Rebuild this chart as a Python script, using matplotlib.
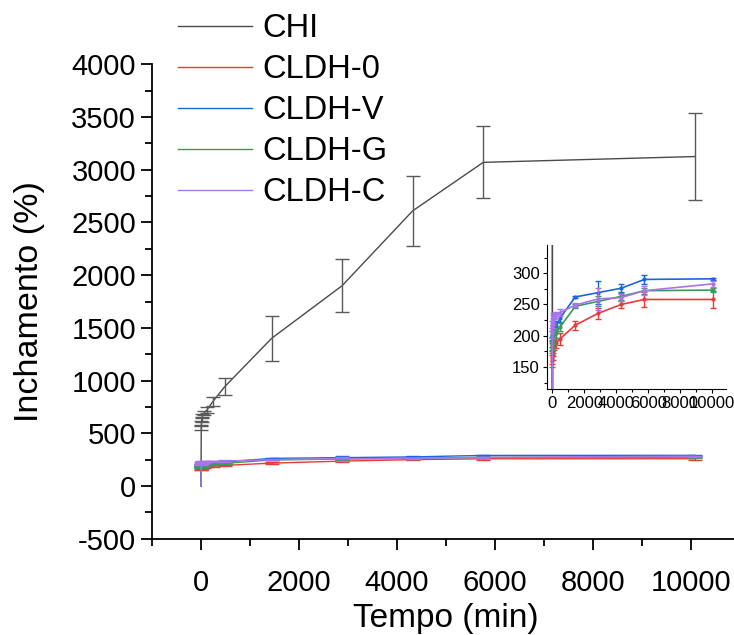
import numpy as np
import matplotlib
matplotlib.use("Agg")
import matplotlib.pyplot as plt
from matplotlib.ticker import MultipleLocator

plt.rcParams['font.family'] = ['Liberation Sans', 'DejaVu Sans']
plt.rcParams['axes.unicode_minus'] = False

# tempo (min)
t = [0, 5, 10, 15, 30, 60, 120, 240, 480, 1440, 2880, 4320, 5760, 10080]

chi = [0, 550, 595, 630, 665, 690, 720, 800, 940, 1400, 1900, 2610, 3070, 3125]
chi_err = [0, 20, 20, 20, 20, 20, 25, 45, 80, 210, 250, 330, 340, 410]

cldh0 = [0, 160, 165, 170, 175, 180, 185, 188, 195, 217, 236, 250, 258, 258]
cldh0_err = [0, 10, 10, 8, 8, 8, 8, 8, 10, 7, 9, 6, 12, 13]

cldhv = [0, 190, 200, 205, 210, 215, 220, 215, 228, 262, 269, 276, 290, 291]
cldhv_err = [0, 8, 8, 8, 8, 8, 8, 8, 6, 2, 18, 6, 7, 2]

cldhg = [0, 180, 185, 190, 195, 200, 205, 205, 214, 247, 255, 263, 272, 273]
cldhg_err = [0, 8, 8, 8, 8, 8, 8, 8, 6, 3, 8, 6, 5, 3]

cldhc = [0, 205, 215, 220, 225, 228, 232, 233, 237, 249, 259, 261, 272, 283]
cldhc_err = [0, 8, 8, 8, 8, 8, 5, 5, 6, 3, 18, 5, 7, 5]

labels = ['CHI', 'CLDH-0', 'CLDH-V', 'CLDH-G', 'CLDH-C']
colors = ['#4a4a4a', '#e83a3a', '#1a66e0', '#3a9a5c', '#a874e8']
series = [chi, cldh0, cldhv, cldhg, cldhc]
errors = [chi_err, cldh0_err, cldhv_err, cldhg_err, cldhc_err]


def draw(a, cap, lw, ms):
    for y, e, c, lab in zip(series, errors, colors, labels):
        ecol = '#5a5a5a' if lab == 'CHI' else c
        a.plot(t, y, color=c, lw=lw, marker='o' if ms else None, markersize=ms)
        # no error bar at t = 0
        a.errorbar(t[1:], y[1:], yerr=e[1:], fmt='none', ecolor=ecol,
                   elinewidth=1.0, capsize=cap, capthick=1.0)


fig = plt.figure(figsize=(7.34, 6.35), dpi=100)
ax = fig.add_axes([152/734, 96.3/635, 588/734, 474.4/635])
draw(ax, 5, 1.0, 0)
handles = [plt.Line2D([], [], color=c, lw=1.0) for c in colors]

ax.set_xlim(-1000, 11000)
ax.set_ylim(-500, 4000)
ax.xaxis.set_major_locator(MultipleLocator(2000))
ax.xaxis.set_minor_locator(MultipleLocator(1000))
ax.yaxis.set_major_locator(MultipleLocator(500))
ax.yaxis.set_minor_locator(MultipleLocator(250))
ax.spines['top'].set_visible(False)
ax.spines['right'].set_visible(False)
for s in ['left', 'bottom']:
    ax.spines[s].set_linewidth(1.3)
ax.tick_params(which='major', length=8, width=1.3, labelsize=21)
ax.tick_params(axis='x', which='major', pad=14)
ax.tick_params(which='minor', length=5, width=1.3)
ax.set_xlabel('Tempo (min)', fontsize=24, labelpad=4)
ax.set_ylabel('Inchamento (%)', fontsize=24.5, labelpad=19)

fig.legend(handles=handles, labels=labels, loc='upper left',
           bbox_to_anchor=(178/734, 1 - 13/635),
           frameon=False, fontsize=23.5, handlelength=2.26, handletextpad=0.34,
           labelspacing=0.31, borderpad=0, borderaxespad=0)

# inset
ins = fig.add_axes([546.7/734, (635 - 389)/635, 179.7/734, 144/635])
draw(ins, 2, 1.2, 2)
ins.set_xlim(-350, 10900)
ins.set_ylim(115, 345)
ins.xaxis.set_major_locator(MultipleLocator(2000))
ins.xaxis.set_minor_locator(MultipleLocator(1000))
ins.yaxis.set_major_locator(MultipleLocator(50))
ins.yaxis.set_minor_locator(MultipleLocator(25))
ins.spines['top'].set_visible(False)
ins.spines['right'].set_visible(False)
ins.tick_params(which='major', length=3, width=0.8, labelsize=12, pad=2)
ins.tick_params(which='minor', length=2, width=0.8)

fig.savefig('out.png', dpi=100)
